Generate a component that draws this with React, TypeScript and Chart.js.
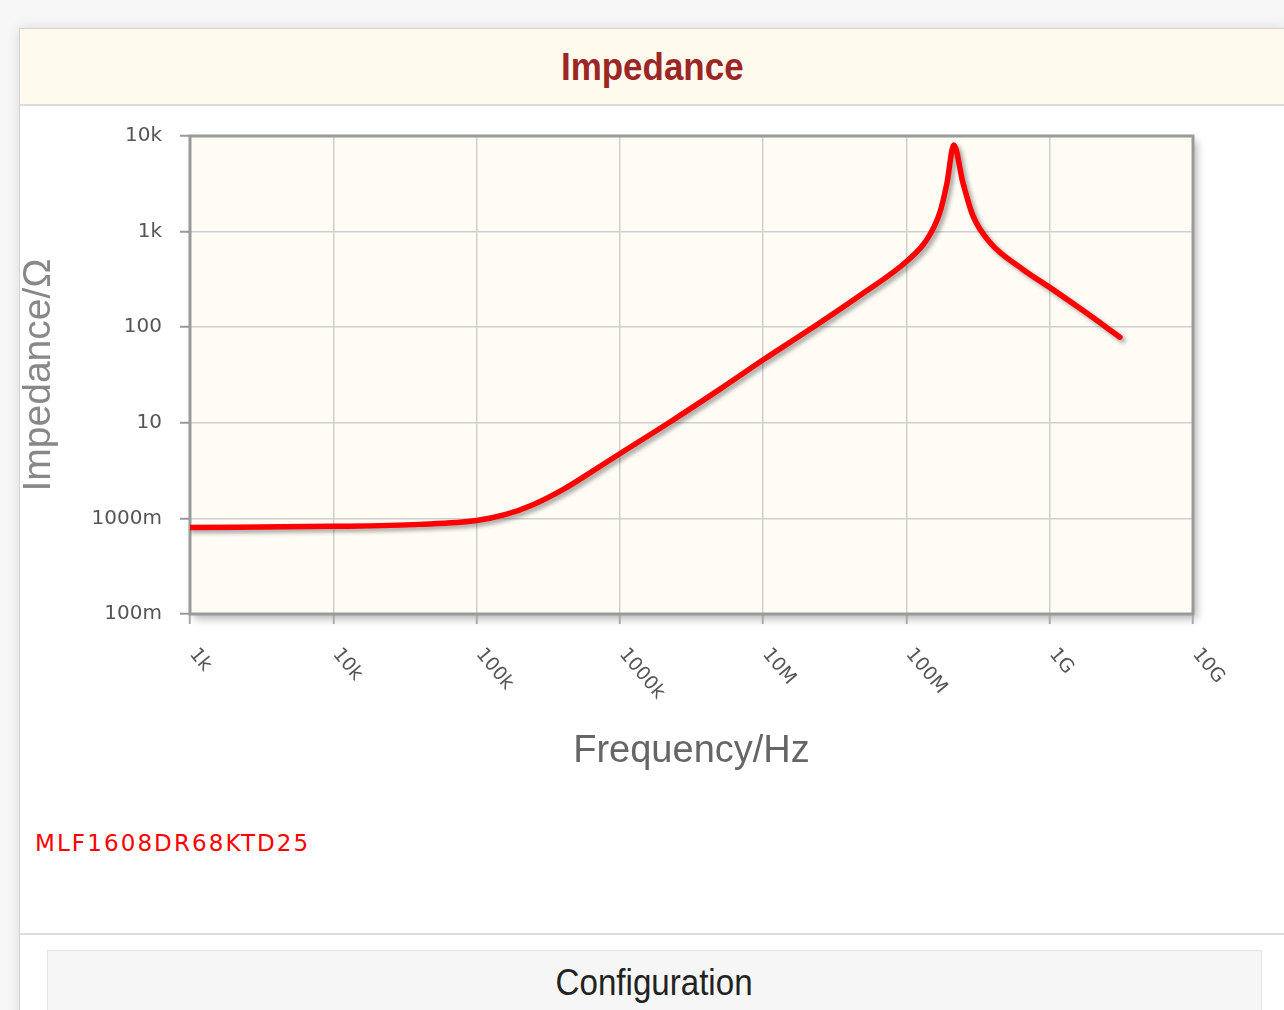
import React, { useEffect, useRef } from "react";
import { Chart, registerables } from "chart.js";
Chart.register(...registerables);

// Frequency (Hz) and impedance (Ω)
const frequencies = [1e3, 1e4, 4.03e4, 1e5, 1.6e5, 2.5e5, 4.0e5, 6.3e5, 1e6, 2.24e6, 5.0e6, 1.02e7, 2.12e7, 4.73e7, 1.02e8, 1.39e8, 1.71e8, 1.92e8, 2.14e8, 2.48e8, 2.91e8, 3.83e8, 6.5e8, 1e9, 1.7e9, 3.09e9];
const impedances = [0.805, 0.826, 0.866, 0.95, 1.1, 1.4, 2.0, 3.05, 4.75, 10.2, 22.5, 46.4, 95, 215, 499, 826, 1578, 3240, 8060, 3240, 1468, 768, 402, 261, 150, 78.7];

const xTickValues = [1e3, 1e4, 1e5, 1e6, 1e7, 1e8, 1e9, 1e10];
const xTickLabels = ["1k", "10k", "100k", "1000k", "10M", "100M", "1G", "10G"];
const yTickValues = [0.1, 1, 10, 100, 1000, 10000];
const yTickLabels = ["100m", "1000m", "10", "100", "1k", "10k"];

const seriesName = "MLF1608DR68KTD25";
const chartTitle = "Impedance";
const xTitle = "Frequency/Hz";
const yTitle = "Impedance/Ω";

const tickFont = "DejaVu Sans";

const decorPlugin = {
  id: "decor",
  beforeDraw(chart: any) {
    const { ctx, chartArea: a } = chart;
    ctx.save();
    ctx.shadowColor = "rgba(0,0,0,0.28)";
    ctx.shadowBlur = 8;
    ctx.shadowOffsetX = 4;
    ctx.shadowOffsetY = 5;
    ctx.fillStyle = "#fefcf4";
    ctx.fillRect(a.left, a.top, a.right - a.left, a.bottom - a.top);
    ctx.restore();
  },
  beforeDatasetsDraw(chart: any) {
    const { ctx, chartArea: a } = chart;
    ctx.save();
    ctx.strokeStyle = "#9a9a9a";
    ctx.lineWidth = 3;
    ctx.strokeRect(a.left, a.top, a.right - a.left, a.bottom - a.top);
    ctx.restore();
  },
  beforeDatasetDraw(chart: any) {
    const ctx = chart.ctx;
    ctx.save();
    ctx.shadowColor = "rgba(0,0,0,0.35)";
    ctx.shadowBlur = 4;
    ctx.shadowOffsetX = 3;
    ctx.shadowOffsetY = 3;
  },
  afterDatasetDraw(chart: any) {
    chart.ctx.restore();
  },
  afterDraw(chart: any) {
    const { ctx, chartArea: a } = chart;
    const xs = chart.scales.x;
    ctx.save();
    ctx.fillStyle = "#555555";
    ctx.font = `19px "${tickFont}"`;
    ctx.textAlign = "left";
    ctx.textBaseline = "top";
    xTickValues.forEach((v, i) => {
      const px = xs.getPixelForValue(v);
      ctx.save();
      ctx.translate(px + 10, a.bottom + 31);
      ctx.rotate((50 * Math.PI) / 180);
      ctx.fillText(xTickLabels[i], 0, 0);
      ctx.restore();
    });
    ctx.restore();
  },
};

export default function App() {
  const ref = useRef<HTMLCanvasElement>(null);

  useEffect(() => {
    if (!ref.current) return;
    const data = frequencies.map((f, i) => ({ x: f, y: impedances[i] }));
    const chart = new Chart(ref.current, {
      type: "line",
      data: {
        datasets: [
          {
            label: seriesName,
            data,
            borderColor: "#ff0000",
            borderWidth: 5.5,
            pointRadius: 0,
            cubicInterpolationMode: "monotone",
            borderCapStyle: "round",
            borderJoinStyle: "round",
            fill: false,
          },
        ],
      },
      options: {
        responsive: false,
        animation: false,
        layout: { padding: { top: 27, right: 91, left: 0, bottom: 0 } },
        plugins: { legend: { display: false }, title: { display: false }, tooltip: { enabled: false } },
        scales: {
          x: {
            type: "logarithmic",
            position: "bottom",
            min: 1e3,
            max: 1e10,
            afterBuildTicks: (s: any) => {
              s.ticks = xTickValues.map((v) => ({ value: v }));
            },
            afterFit: (s: any) => {
              s.height = 212;
            },
            ticks: { display: false },
            grid: { color: "#cfcfcf", lineWidth: 1.5, tickLength: 10, tickColor: "#aaaaaa", tickWidth: 2 },
            border: { display: false },
            title: {
              display: true,
              text: xTitle,
              color: "#666666",
              font: { family: "Liberation Sans", size: 38, weight: "normal" },
              padding: { top: 0, bottom: 52 },
            },
          },
          y: {
            type: "logarithmic",
            position: "left",
            min: 0.1,
            max: 10000,
            afterBuildTicks: (s: any) => {
              s.ticks = yTickValues.map((v) => ({ value: v }));
            },
            afterFit: (s: any) => {
              s.width = 170;
            },
            ticks: {
              color: "#555555",
              font: { family: tickFont, size: 20 },
              padding: 18,
              callback: (_v: any, i: number) => yTickLabels[i],
            },
            grid: { color: "#cfcfcf", lineWidth: 1.5, tickLength: 10, tickColor: "#999999", tickWidth: 2 },
            border: { display: false },
            title: {
              display: true,
              text: yTitle,
              color: "#888888",
              font: { family: "Liberation Sans", size: 39, weight: "normal", lineHeight: 1 },
              padding: { top: 0, bottom: 0 },
            },
          },
        },
      },
      plugins: [decorPlugin],
    } as any);
    return () => chart.destroy();
  }, []);

  return (
    <div
      style={{
        position: "absolute",
        left: 0,
        top: 0,
        width: 1284,
        height: 1010,
        overflow: "hidden",
        background: "#f7f7f7",
      }}
    >
      <div
        style={{
          position: "absolute",
          left: 19,
          top: 28,
          width: 1265,
          height: 1000,
          background: "#ffffff",
          borderLeft: "1px solid #d4d4d4",
          borderTop: "1px solid #d4d4d4",
          boxShadow: "0 0 12px rgba(0,0,0,0.12)",
        }}
      >
        <div
          style={{
            position: "absolute",
            left: 0,
            top: 0,
            width: 1265,
            height: 75,
            background: "#fffaed",
            borderBottom: "2px solid #dddddd",
            textAlign: "center",
            lineHeight: "76px",
            fontFamily: '"Liberation Sans", Arial, sans-serif',
            fontWeight: "bold",
            fontSize: 38,
            color: "#9b2626",
          }}
        >
          <span style={{ display: "inline-block", transform: "scaleX(0.92)" }}>{chartTitle}</span>
        </div>
      </div>
      <div style={{ position: "absolute", left: 20, top: 106, width: 1264, height: 720 }}>
        <canvas ref={ref} width={1264} height={720} style={{ width: 1264, height: 720, display: "block" }} />
      </div>
      <div
        style={{
          position: "absolute",
          left: 35,
          top: 832,
          fontFamily: '"DejaVu Sans", sans-serif',
          fontSize: 23,
          lineHeight: "23px",
          letterSpacing: "2.1px",
          color: "#ff0000",
          whiteSpace: "nowrap",
        }}
      >
        {seriesName}
      </div>
      <div style={{ position: "absolute", left: 20, top: 933, width: 1264, height: 2, background: "#dcdcdc" }} />
      <div
        style={{
          position: "absolute",
          left: 47,
          top: 950,
          width: 1213,
          height: 80,
          background: "#f6f6f6",
          border: "1px solid #e4e4e4",
          textAlign: "center",
          lineHeight: "64px",
          fontFamily: '"Liberation Sans", Arial, sans-serif',
          fontSize: 36,
          color: "#222222",
        }}
      >
        <span style={{ display: "inline-block", transform: "scaleX(0.92)" }}>Configuration</span>
      </div>
    </div>
  );
}
